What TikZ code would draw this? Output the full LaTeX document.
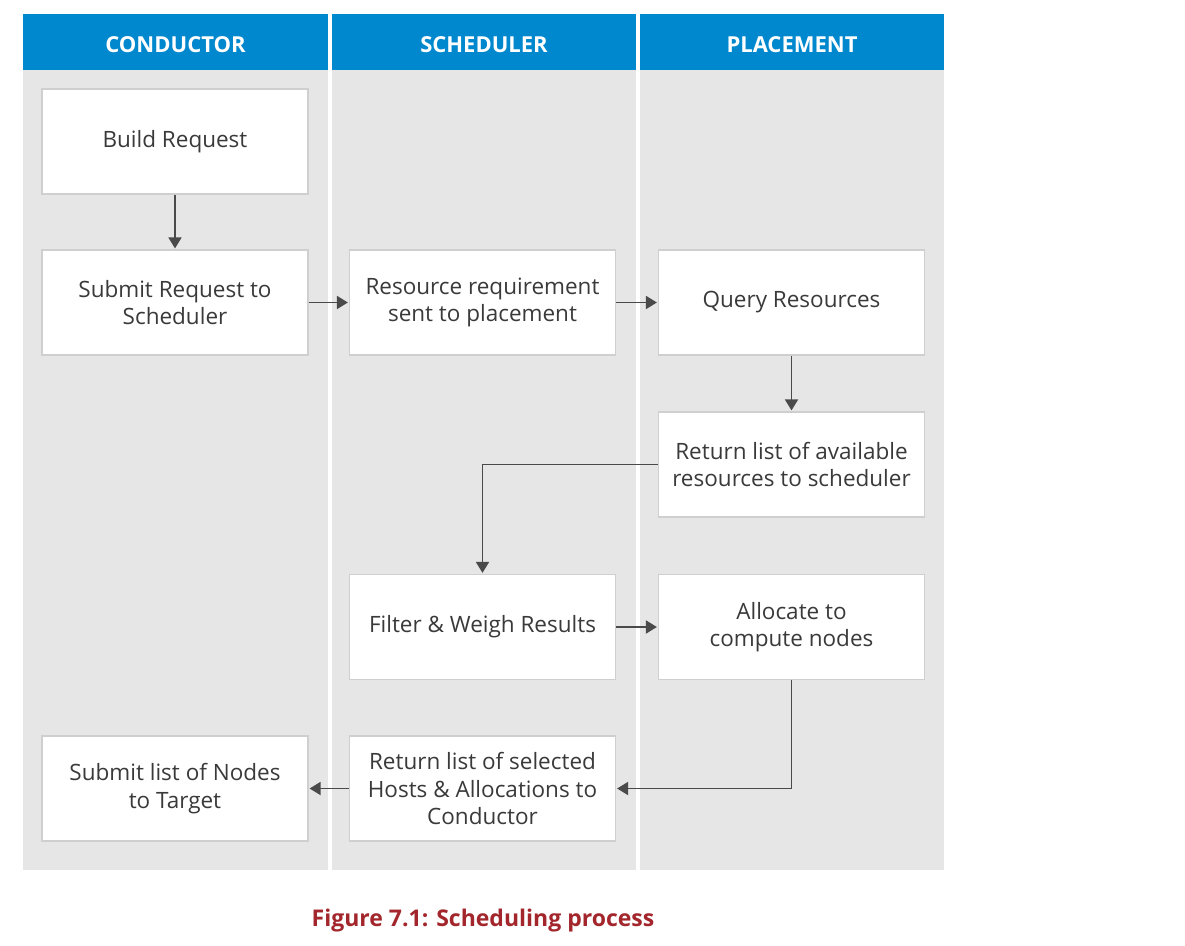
\documentclass[tikz,border=0pt]{standalone}
\usepackage{fontspec}
\setmainfont{Open Sans}
\usetikzlibrary{arrows.meta}
\definecolor{hdr}{HTML}{0088CE}
\definecolor{lanebg}{HTML}{E6E6E6}
\definecolor{boxline}{HTML}{CFCFCF}
\definecolor{txt}{HTML}{3A3A3A}
\definecolor{arrc}{HTML}{4A4A4A}
\definecolor{capc}{HTML}{A2262B}
\tikzset{
  lane/.style={fill=lanebg},
  header/.style={fill=hdr},
  htext/.style={text=white, font=\fontsize{22}{26}\selectfont\bfseries},
  box/.style={draw=boxline, line width=1.2pt, fill=white, minimum width=266, minimum height=105,
    text=txt, align=center, font=\fontsize{22.5}{27.5}\selectfont, inner sep=2pt},
  arr/.style={draw=arrc, line width=1.8pt, -{Triangle[width=13pt,length=11pt]}, shorten >=1pt},
}
\begin{document}
\begin{tikzpicture}[x=1pt,y=-1pt]
\useasboundingbox (0,0) rectangle (1185,945);
% lanes
\fill[lane] (23,70) rectangle (328,870);
\fill[lane] (332,70) rectangle (636,870);
\fill[lane] (640,70) rectangle (944,870);
\fill[header] (23,14) rectangle (328,70);
\fill[header] (332,14) rectangle (636,70);
\fill[header] (640,14) rectangle (944,70);
\node[htext] (h1) at (175.5,45) {CONDUCTOR};
\node[htext] (h2) at (484,45) {SCHEDULER};
\node[htext] (h3) at (792,45) {PLACEMENT};
% boxes
\node[box] (b1) at (175,141.5) {Build Request};
\node[box] (b2) at (175,302.5) {Submit Request to\\Scheduler};
\node[box] (s1) at (482.5,302.5) {Resource requirement\\sent to placement};
\node[box] (p1) at (791.5,302.5) {Query Resources};
\node[box] (p2) at (791.5,464.5) {Return list of available\\resources to scheduler};
\node[box] (s2) at (482.5,627) {Filter \& Weigh Results};
\node[box] (p3) at (791.5,627) {Allocate to\\compute nodes};
\node[box] (c3) at (175,788.5) {Submit list of Nodes\\to Target};
\node[box] (s3) at (482.5,788.5) {Return list of selected\\Hosts \& Allocations to\\Conductor};
% connectors
\draw[arr] (b1) -- (b2);
\draw[arr] (b2) -- (s1);
\draw[arr] (s1) -- (p1);
\draw[arr] (p1) -- (p2);
\draw[arr] (p2.west) -| (s2.north);
\draw[arr] (s2) -- (p3);
\draw[arr] (p3.south) |- (s3.east);
\draw[arr] (s3) -- (c3);
% caption
\node[text=capc, font=\fontsize{23}{27}\selectfont\bfseries] (cap) at (483,921) {Figure 7.1: Scheduling process};
\end{tikzpicture}
\end{document}
